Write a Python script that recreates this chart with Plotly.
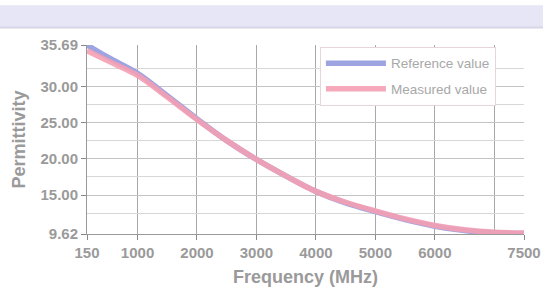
import plotly.graph_objects as go

freq = [150, 500, 1000, 1500, 2000, 2500, 3000, 3500, 4000, 4500, 5000, 5500, 6000, 6500, 7000, 7500]
reference = [35.69, 34.0, 31.8, 28.7, 25.5, 22.5, 19.9, 17.6, 15.5, 13.9, 12.7, 11.6, 10.7, 10.1, 9.8, 9.7]
measured = [34.9, 33.5, 31.5, 28.5, 25.4, 22.5, 19.9, 17.6, 15.5, 14.0, 12.8, 11.7, 10.8, 10.2, 9.85, 9.75]

x_ticks = [150, 1000, 2000, 3000, 4000, 5000, 6000, 7500]
x_grid = [1000, 2000, 3000, 4000, 5000, 6000, 7000]
y_ticks = [9.62, 15, 20, 25, 30, 35.69]
y_minor = [12.5, 17.5, 22.5, 27.5, 32.5]

FONT = "Liberation Sans, Arial, sans-serif"
GREY = "#9a9a9a"

fig = go.Figure()
fig.add_trace(go.Scatter(x=freq, y=reference, mode="lines", name="Reference value", legendgroup="r",
                         line=dict(color="#9ea4e2", width=5.5, shape="spline")))
fig.add_trace(go.Scatter(x=freq, y=measured, mode="lines", name="Measured value", legendgroup="m",
                         line=dict(color="rgba(244,160,178,0.9)", width=5.5, shape="spline")))

fig.add_shape(type="rect", xref="paper", yref="paper", x0=-0.25, x1=1.1, y0=1.092, y1=1.21,
              fillcolor="#e6e6f7", line=dict(width=0), layer="below")
fig.add_shape(type="line", xref="paper", yref="paper", x0=-0.25, x1=1.1, y0=1.092, y1=1.092,
              line=dict(color="#d6d6e6", width=2), layer="below")

fig.update_layout(
    width=543, height=297,
    margin=dict(l=87, r=19, t=45, b=63),
    paper_bgcolor="white", plot_bgcolor="white",
    font=dict(family=FONT, color=GREY),
    legend=dict(x=0.533, y=0.99, xanchor="left", yanchor="top", itemwidth=60,
                tracegroupgap=5,
                bgcolor="white", bordercolor="#e6d6dc", borderwidth=1,
                font=dict(size=13.5, color="#a8a8a8", family=FONT)),
    xaxis=dict(range=[150, 7500], tickvals=x_ticks, ticktext=[str(v) for v in x_ticks],
               automargin=False, ticklabeloverflow="allow",
               showgrid=False, showline=True, linecolor="#999", linewidth=1,
               ticks="outside", ticklen=5, tickcolor="#888",
               tickfont=dict(size=15, color=GREY, family=FONT, weight="bold"),
               minor=dict(tickvals=x_grid, showgrid=True, gridcolor="#a8a8a8", gridwidth=1),
               title=dict(text="Frequency (MHz)", standoff=10,
                          font=dict(size=18, color=GREY, family=FONT, weight="bold")),
               zeroline=False),
    yaxis=dict(range=[9.62, 35.69], tickvals=y_ticks, ticktext=[f"{v:.2f}" for v in y_ticks],
               automargin=False, ticklabeloverflow="allow",
               showgrid=True, gridcolor="#c4c4c4", gridwidth=1,
               showline=True, linecolor="#999", linewidth=1,
               ticks="outside", ticklen=5, tickcolor="#888",
               tickfont=dict(size=15, color=GREY, family=FONT, weight="bold"),
               minor=dict(tickvals=y_minor, showgrid=True, gridcolor="#d8d8d8", gridwidth=1),
               title=dict(text="Permittivity", standoff=10,
                          font=dict(size=18, color=GREY, family=FONT, weight="bold")),
               zeroline=False),
)

fig.write_html("out.html", config={"displayModeBar": False},
               post_script="document.body.style.margin='0';document.body.style.padding='0';")
